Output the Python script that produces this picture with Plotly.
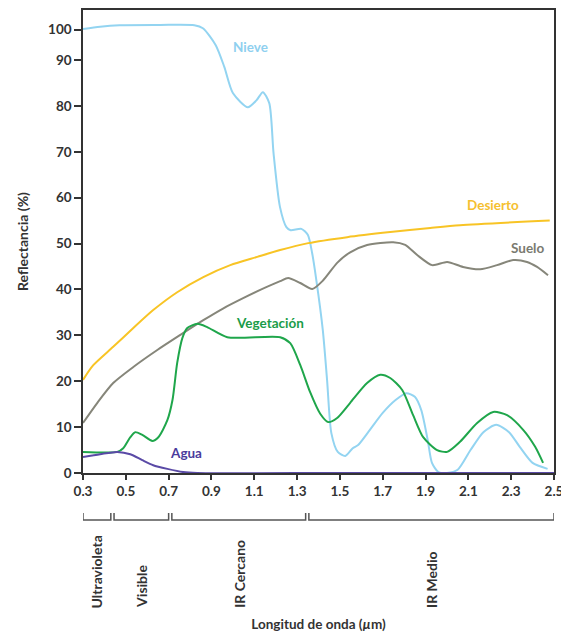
import plotly.graph_objects as go

# ---------------- data (wavelength in µm, reflectance in %) ----------------
nieve_x = [0.30, 0.38, 0.47, 0.66, 0.82, 0.86, 0.92, 0.96, 1.00, 1.07, 1.11, 1.14, 1.17, 1.19,
           1.22, 1.25, 1.27, 1.32, 1.35, 1.37, 1.39, 1.42, 1.44, 1.46, 1.49, 1.525, 1.56, 1.585,
           1.64, 1.70, 1.76, 1.81, 1.85, 1.88, 1.91, 1.93, 1.96, 2.00, 2.05, 2.11, 2.17, 2.23,
           2.29, 2.34, 2.40, 2.47]
nieve_y = [100.2, 101.0, 101.5, 101.6, 101.5, 100.5, 94.9, 88.5, 82.8, 79.7, 81.2, 83.0, 80.6, 69.7,
           58.0, 53.6, 52.9, 53.2, 51.9, 48.0, 42.0, 31.2, 20.3, 8.7, 4.6, 3.7, 5.4, 6.1,
           9.4, 13.1, 15.9, 17.4, 16.6, 13.7, 7.2, 2.2, 0.2, 0.0, 0.7, 5.0, 8.9, 10.5,
           8.9, 5.7, 2.2, 0.9]

veg_x = [0.30, 0.46, 0.488, 0.521, 0.544, 0.577, 0.624, 0.652, 0.694, 0.718, 0.74, 0.764, 0.787,
         0.834, 0.88, 0.974, 1.221, 1.268, 1.315, 1.361, 1.408, 1.445, 1.487, 1.548, 1.627, 1.688,
         1.735, 1.791, 1.842, 1.889, 1.954, 2.001, 2.061, 2.141, 2.216, 2.281, 2.356, 2.412, 2.449]
veg_y = [4.6, 4.6, 5.4, 7.8, 8.9, 8.3, 7.0, 7.8, 11.5, 15.9, 24.0, 29.4, 31.6,
         32.5, 31.8, 29.6, 29.6, 28.3, 23.5, 17.6, 12.9, 11.1, 12.0, 15.3, 19.6, 21.4,
         20.7, 18.1, 12.6, 7.8, 5.0, 4.6, 6.8, 10.9, 13.3, 12.6, 9.4, 5.7, 2.2]

suelo_x = [0.30, 0.367, 0.441, 0.535, 0.647, 0.755, 0.862, 0.956, 1.048, 1.128, 1.221, 1.258,
           1.315, 1.371, 1.422, 1.487, 1.548, 1.627, 1.749, 1.805, 1.861, 1.931, 2.001, 2.075,
           2.155, 2.234, 2.309, 2.374, 2.421, 2.472]
suelo_y = [10.9, 15.3, 19.6, 23.1, 26.8, 30.1, 33.3, 35.9, 38.1, 39.9, 41.8, 42.5,
           41.4, 40.1, 42.0, 45.8, 48.1, 49.7, 50.3, 49.7, 47.5, 45.3, 46.0, 44.9,
           44.4, 45.3, 46.4, 46.0, 44.9, 43.1]

desierto_x = [0.30, 0.348, 0.441, 0.535, 0.628, 0.74, 0.862, 0.988, 1.114, 1.221, 1.352, 1.534,
              1.735, 1.922, 2.061, 2.48]
desierto_y = [20.3, 23.5, 27.5, 31.6, 35.5, 39.4, 42.7, 45.3, 47.1, 48.6, 50.1, 51.4,
              52.5, 53.4, 54.0, 55.0]

agua_x = [0.30, 0.38, 0.46, 0.521, 0.577, 0.628, 0.694, 0.768, 0.834, 1.5, 2.5]
agua_y = [3.5, 4.1, 4.6, 4.1, 2.8, 1.7, 0.9, 0.2, 0.0, 0.0, 0.0]

x_ticks = [0.3, 0.5, 0.7, 0.9, 1.1, 1.3, 1.5, 1.7, 1.9, 2.1, 2.3, 2.5]
x_ticktext = ["0.3", "0.5", "0.7", "0.9", "1.1", "1.3", "1.5", "1.7", "1.9", "2.1", "2.3", "2.5"]
y_ticks = [0, 10, 20, 30, 40, 50, 60, 70, 80, 90, 100]

band_names = ["Ultravioleta", "Visible", "IR Cercano", "IR Medio"]
band_start = [0.30, 0.445, 0.715, 1.355]
band_end = [0.43, 0.70, 1.34, 2.50]

# ---------------- y scale: the original compresses the 90-100 segment ----------------
def comp(v):
    return v if v <= 90 else 90 + (v - 90) * 0.66

FONT = "Lato"
TXT = "#333333"

series = [
    ("Nieve", nieve_x, nieve_y, "#93d4f1", 1.082, 92.8),
    ("Desierto", desierto_x, desierto_y, "#f8c425", 2.216, 58.4),
    ("Suelo", suelo_x, suelo_y, "#86867a", 2.375, 49.0),
    ("Vegetación", veg_x, veg_y, "#1fa64b", 1.175, 32.6),
    ("Agua", agua_x, agua_y, "#5a4aa6", 0.783, 4.4),
]
label_colors = {"Nieve": "#8fd0ef", "Desierto": "#f5c030", "Suelo": "#7a7a70",
                "Vegetación": "#1b9c48", "Agua": "#4a3b9c"}

fig = go.Figure()
for name, xs, ys, col, lx, ly in series:
    fig.add_trace(go.Scatter(
        x=xs, y=[comp(v) for v in ys], mode="lines", name=name,
        line=dict(color=col, width=2, shape="spline", smoothing=0.7),
        showlegend=False, hoverinfo="skip"))
    fig.add_annotation(x=lx, y=ly, xref="x", yref="y", text=name, showarrow=False,
                       font=dict(family=FONT, size=13.5, color=label_colors[name], weight="bold"))

# spectral band brackets under the axis
y_top, y_bot = -0.0864, -0.1015
for name, s, e in zip(band_names, band_start, band_end):
    fig.add_shape(type="path", xref="x", yref="paper",
                  path=f"M {s},{y_top} L {s},{y_bot} L {e},{y_bot} L {e},{y_top}",
                  line=dict(color="#555555", width=1.5))
    fig.add_annotation(x=(s + e) / 2, y=-0.296, xref="x", yref="paper", text=name,
                       textangle=-90, showarrow=False, yanchor="bottom", xanchor="center",
                       font=dict(family=FONT, size=14, color=TXT, weight="bold"))

fig.update_xaxes(
    range=[0.3, 2.5], tickvals=x_ticks, ticktext=x_ticktext, ticklabeloverflow="allow",
    automargin=False,
    ticks="outside", ticklen=5, tickwidth=1.5, tickcolor=TXT,
    showline=True, linecolor=TXT, linewidth=1.5, mirror=True,
    showgrid=False, zeroline=False, layer="below traces",
    tickfont=dict(family=FONT, size=13.5, color=TXT, weight="bold"),
    title=dict(text="Longitud de onda (<i>µ</i>m)", standoff=122,
               font=dict(family=FONT, size=13.5, color=TXT, weight="bold")),
)
fig.update_yaxes(
    range=[0, 100.9], tickvals=[comp(v) for v in y_ticks], ticktext=[str(v) for v in y_ticks],
    automargin=False,
    ticks="outside", ticklen=7, tickwidth=1.5, tickcolor=TXT,
    showline=True, linecolor=TXT, linewidth=1.5, mirror=True,
    showgrid=False, zeroline=False, layer="below traces",
    tickfont=dict(family=FONT, size=13.5, color=TXT, weight="bold"),
    title=dict(text="Reflectancia (%)", standoff=16,
               font=dict(family=FONT, size=14, color=TXT, weight="bold")),
)

fig.update_layout(
    width=561, height=635,
    margin=dict(l=83, r=7, t=10, b=162),
    paper_bgcolor="white", plot_bgcolor="white",
    showlegend=False,
)

fig.write_html("out.html")
